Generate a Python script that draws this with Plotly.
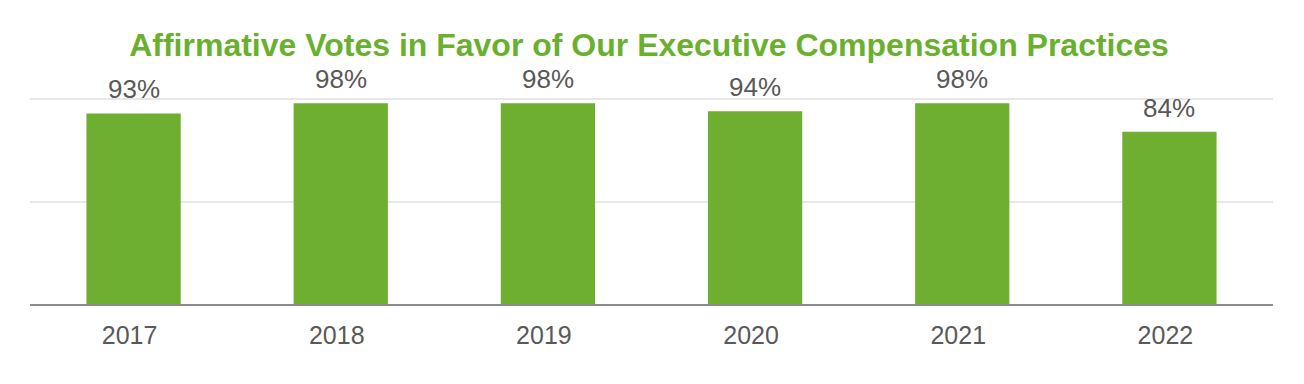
import plotly.graph_objects as go

years = ["2017", "2018", "2019", "2020", "2021", "2022"]
votes = [93, 98, 98, 94, 98, 84]
labels = ["93%", "98%", "98%", "94%", "98%", "84%"]
title_text = "Affirmative Votes in Favor of Our Executive Compensation Practices"

GREEN = "#6EAE31"
GREY_TEXT = "#595959"

xpos = list(range(len(years)))

fig = go.Figure()
fig.add_trace(go.Bar(x=xpos, y=votes, marker=dict(color=GREEN, line=dict(width=0)),
                     hoverinfo="skip"))

for i, v, lab in zip(xpos, votes, labels):
    fig.add_annotation(x=i, y=v, text=lab, showarrow=False, yanchor="middle",
                       yshift=24, font=dict(family="Liberation Sans, Arial", size=26, color=GREY_TEXT))

fig.update_layout(
    width=1304, height=384,
    margin=dict(l=22, r=39, t=89, b=88),
    paper_bgcolor="white", plot_bgcolor="white",
    bargap=0.545,
    showlegend=False,
    title=dict(text="<b>" + title_text + "</b>", x=0.4916, xanchor="center", y=0.904, yanchor="middle",
               font=dict(family="Liberation Sans, Arial", size=32, color="#6AB02F")),
    xaxis=dict(type="linear", range=[-0.5, len(years) - 0.5], tickvals=xpos, ticktext=years,
               showgrid=False, showline=True, linecolor="#8C8C8C", linewidth=2, zeroline=False,
               ticks="", ticklabelstandoff=8, ticklabelshift=-4,
               tickfont=dict(family="Liberation Sans, Arial", size=25, color=GREY_TEXT)),
    yaxis=dict(range=[0, 101], tickvals=[50, 100], showticklabels=False, showgrid=True,
               gridcolor="#E8E8E8", gridwidth=1.5, zeroline=False, showline=False),
)

fig.write_html("out.html")
